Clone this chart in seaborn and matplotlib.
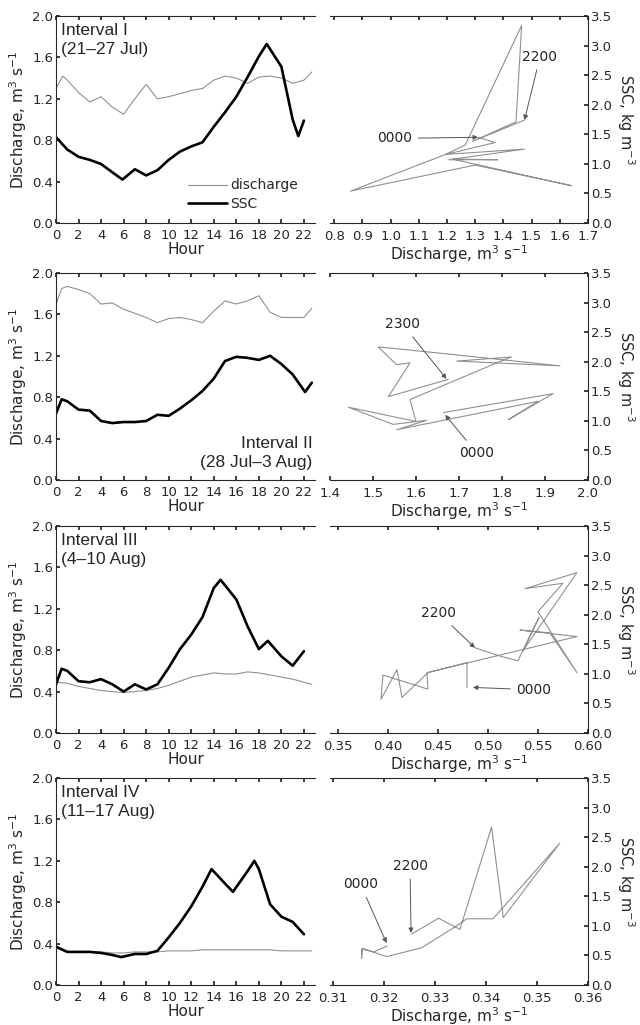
import matplotlib
matplotlib.use("Agg")
import matplotlib.pyplot as plt
import numpy as np
import seaborn as sns

# ---- left panels: hourly curves (read on the discharge axis) ----
q1_h = [0, 0.6, 1, 2, 3, 4, 5, 6, 7, 8, 9, 10, 11, 12, 13, 14, 15, 16, 17, 18, 19, 20, 21, 22, 22.7]
q1_v = [1.30, 1.42, 1.38, 1.26, 1.17, 1.22, 1.12, 1.05, 1.20, 1.34, 1.20, 1.22, 1.25, 1.28, 1.30, 1.38, 1.42,
        1.40, 1.35, 1.41, 1.42, 1.40, 1.35, 1.38, 1.46]
s1_h = [0, 1, 2, 3, 4, 5, 5.9, 7, 8, 9, 10, 11, 12, 13, 14, 15, 16, 17, 18, 18.7, 20, 21, 21.5, 22]
s1_v = [0.83, 0.71, 0.64, 0.61, 0.57, 0.49, 0.42, 0.52, 0.46, 0.51, 0.61, 0.69, 0.74, 0.78, 0.93, 1.07, 1.22,
        1.41, 1.61, 1.73, 1.51, 1.00, 0.84, 0.99]

q2_h = [0, 0.5, 1, 2, 3, 4, 5, 6, 7, 8, 9, 10, 11, 12, 13, 14, 15, 16, 17, 18, 19, 20, 21, 22, 22.7]
q2_v = [1.70, 1.85, 1.87, 1.84, 1.80, 1.70, 1.71, 1.65, 1.61, 1.57, 1.52, 1.56, 1.57, 1.55, 1.52, 1.63, 1.73,
        1.70, 1.73, 1.78, 1.62, 1.57, 1.57, 1.57, 1.66]
s2_h = [0, 0.5, 1, 2, 3, 4, 5, 6, 7, 8, 9, 10, 11, 12, 13, 14, 15, 16, 17, 18, 19, 20, 21, 22.1, 22.7]
s2_v = [0.64, 0.78, 0.76, 0.68, 0.67, 0.57, 0.55, 0.56, 0.56, 0.57, 0.63, 0.62, 0.69, 0.77, 0.86, 0.98, 1.15,
        1.19, 1.18, 1.16, 1.20, 1.12, 1.02, 0.85, 0.94]

q3_h = [0, 1, 2, 3, 4, 5, 6, 7, 8, 9, 10, 11, 12, 13, 14, 15, 16, 17, 18, 19, 20, 21, 22, 22.7]
q3_v = [0.49, 0.48, 0.45, 0.43, 0.41, 0.40, 0.39, 0.40, 0.41, 0.43, 0.46, 0.50, 0.54, 0.56, 0.58, 0.57, 0.57,
        0.59, 0.58, 0.56, 0.54, 0.52, 0.49, 0.47]
s3_h = [0, 0.5, 1, 2, 3, 4, 5, 6, 7, 8, 9, 10, 11, 12, 13, 14, 14.6, 16, 17, 18, 18.8, 20, 21, 22]
s3_v = [0.47, 0.62, 0.60, 0.50, 0.49, 0.52, 0.47, 0.40, 0.47, 0.42, 0.47, 0.63, 0.81, 0.95, 1.12, 1.40, 1.48,
        1.29, 1.03, 0.81, 0.89, 0.74, 0.65, 0.79]

q4_h = [0, 1, 2, 3, 4, 5, 6, 7, 8, 9, 10, 11, 12, 13, 14, 15, 16, 17, 18, 19, 20, 21, 22, 22.7]
q4_v = [0.36, 0.32, 0.32, 0.32, 0.32, 0.31, 0.31, 0.32, 0.32, 0.32, 0.33, 0.33, 0.33, 0.34, 0.34, 0.34, 0.34,
        0.34, 0.34, 0.34, 0.33, 0.33, 0.33, 0.33]
s4_h = [0, 1, 2, 3, 4, 5, 5.8, 7, 8, 9, 10, 11, 12, 13, 13.8, 15, 15.7, 17, 17.6, 18, 19, 20, 21, 22]
s4_v = [0.37, 0.32, 0.32, 0.32, 0.31, 0.29, 0.27, 0.30, 0.30, 0.33, 0.46, 0.60, 0.76, 0.95, 1.12, 0.98, 0.90,
        1.10, 1.20, 1.12, 0.78, 0.66, 0.61, 0.49]

# ---- right panels: hysteresis paths (discharge, SSC) in hour order ----
h1_q = [1.31, 1.37, 1.195, 1.475, 1.207, 1.38, 1.22, 1.643, 1.30, 0.858, 1.195, 1.265, 1.465, 1.445, 1.29, 1.475]
h1_s = [1.45, 1.36, 1.16, 1.25, 1.07, 1.07, 1.08, 0.63, 0.98, 0.54, 1.16, 1.32, 3.34, 1.71, 1.38, 1.74]

h2_q = [1.664, 1.919, 1.815, 1.884, 1.555, 1.625, 1.547, 1.443, 1.60, 1.586, 1.788, 1.822, 1.695, 1.935, 1.648,
        1.512, 1.555, 1.586, 1.536, 1.675]
h2_s = [1.14, 1.46, 1.02, 1.33, 0.85, 1.01, 0.94, 1.23, 0.99, 1.36, 1.98, 2.08, 2.01, 1.93, 2.15, 2.25, 1.95,
        1.98, 1.41, 1.70]

h3_q = [0.479, 0.479, 0.44, 0.414, 0.409, 0.393, 0.395, 0.44, 0.439, 0.589, 0.532, 0.562, 0.589, 0.55, 0.575,
        0.537, 0.589, 0.535, 0.551, 0.53, 0.512, 0.487]
h3_s = [0.77, 1.19, 1.02, 0.60, 1.07, 0.57, 0.98, 0.74, 1.02, 1.63, 1.74, 1.69, 1.02, 2.05, 2.53, 2.44, 2.71,
        1.39, 1.95, 1.22, 1.30, 1.44]

h4_q = [0.3206, 0.318, 0.3156, 0.3156, 0.3158, 0.3205, 0.3274, 0.3346, 0.3362, 0.3414, 0.3545, 0.3434, 0.3411,
        0.3349, 0.3307, 0.3254]
h4_s = [0.66, 0.56, 0.61, 0.45, 0.62, 0.48, 0.63, 1.02, 1.12, 1.12, 2.40, 1.14, 2.67, 0.94, 1.13, 0.86]

interval_names = ["Interval I\n(21\u201327 Jul)", "Interval II\n(28 Jul\u20133 Aug)",
                  "Interval III\n(4\u201310 Aug)", "Interval IV\n(11\u201317 Aug)"]
q_ticks = [np.arange(0.8, 1.71, 0.1), np.arange(1.4, 2.01, 0.1),
           np.arange(0.35, 0.601, 0.05), np.arange(0.31, 0.361, 0.01)]
q_fmt = ["%.1f", "%.1f", "%.2f", "%.2f"]
q_lims = [(0.785, 1.7), (1.4, 2.0), (0.342, 0.60), (0.3094, 0.36)]

# arrows: (label, text position, arrow target)
notes = [
    [("0000", (1.015, 1.43), (1.31, 1.45)), ("2200", (1.53, 2.81), (1.475, 1.74))],
    [("2300", (1.569, 2.63), (1.671, 1.71)), ("0000", (1.741, 0.46), (1.668, 1.10))],
    [("2200", (0.451, 2.02), (0.487, 1.44)), ("0000", (0.546, 0.73), (0.485, 0.77))],
    [("0000", (0.3154, 1.70), (0.3205, 0.71)), ("2200", (0.3251, 2.01), (0.3253, 0.88))],
]

curves = [(q1_h, q1_v, s1_h, s1_v), (q2_h, q2_v, s2_h, s2_v),
          (q3_h, q3_v, s3_h, s3_v), (q4_h, q4_v, s4_h, s4_v)]
loops = [(h1_q, h1_s), (h2_q, h2_s), (h3_q, h3_s), (h4_q, h4_s)]

sns.set_theme(style="ticks")
plt.rcParams['font.family'] = ['DejaVu Sans']
plt.rcParams['axes.linewidth'] = 0.8

fig = plt.figure(figsize=(6.4, 10.25), dpi=100)
bottoms = [0.7824, 0.5317, 0.2849, 0.0390]
height = 0.202
narrow = ['Liberation Sans Narrow', 'Liberation Sans', 'DejaVu Sans']
grey = '#909090'

for i in range(4):
    axl = fig.add_axes([0.0875, bottoms[i], 0.405, height])
    axr = fig.add_axes([0.5156, bottoms[i], 0.403, height])

    qh, qv, sh, sv = curves[i]
    sns.lineplot(x=qh, y=qv, ax=axl, color=grey, lw=0.8, label="discharge", sort=False)
    sns.lineplot(x=sh, y=sv, ax=axl, color='black', lw=1.9, label="SSC", sort=False)
    axl.set_xlim(0, 23)
    axl.set_ylim(0, 2.0)
    axl.set_xticks(range(0, 23, 2))
    axl.set_yticks(np.arange(0, 2.01, 0.4))
    axl.yaxis.set_major_formatter(matplotlib.ticker.FormatStrFormatter("%.1f"))
    axl.spines['right'].set_visible(False)
    axl.tick_params(axis='x', direction='in', top=True, length=3, pad=4, labelsize=9.5)
    axl.tick_params(axis='y', direction='in', length=3, pad=2, labelsize=9.5)
    axl.set_xlabel("Hour", fontsize=11, labelpad=0)
    axl.set_ylabel("Discharge, m$^3$ s$^{-1}$", fontsize=11, labelpad=2)
    if i == 0:
        axl.legend(loc='lower right', bbox_to_anchor=(0.98, 0.0), frameon=False, fontsize=10,
                   handlelength=2.8, handletextpad=0.2, labelspacing=0.3)
    else:
        axl.get_legend().remove()
    if i == 1:
        axl.text(0.99, 0.05, interval_names[i], transform=axl.transAxes, ha='right', va='bottom',
                 multialignment='right', fontsize=12.5, family=narrow, linespacing=1.3)
    else:
        axl.text(0.02, 0.965, interval_names[i], transform=axl.transAxes, ha='left', va='top',
                 fontsize=12.5, family=narrow, linespacing=1.3)

    lq, ls = loops[i]
    sns.lineplot(x=lq, y=ls, ax=axr, color=grey, lw=0.8, sort=False, estimator=None)
    axr.set_xlim(*q_lims[i])
    axr.set_ylim(0, 3.5)
    axr.set_xticks(q_ticks[i])
    axr.xaxis.set_major_formatter(matplotlib.ticker.FormatStrFormatter(q_fmt[i]))
    axr.set_yticks(np.arange(0, 3.51, 0.5))
    axr.yaxis.set_major_formatter(matplotlib.ticker.FormatStrFormatter("%.1f"))
    axr.spines['left'].set_visible(False)
    axr.yaxis.tick_right()
    axr.tick_params(axis='x', direction='in', top=True, length=3, pad=5, labelsize=9.5)
    axr.tick_params(axis='y', direction='in', right=True, left=False, length=3, pad=2, labelsize=9.5)
    axr.set_xlabel("Discharge, m$^3$ s$^{-1}$", fontsize=11, labelpad=0)
    axr.set_ylabel("")
    axr.text(1.148, 0.5, "SSC, kg m$^{-3}$", transform=axr.transAxes, rotation=270,
             ha='center', va='center', fontsize=10.5)

    for label, txy, pxy in notes[i]:
        axr.annotate(label, xy=pxy, xytext=txy, ha='center', va='center', fontsize=10,
                     arrowprops=dict(arrowstyle='-|>', color='#555555', lw=0.7,
                                     mutation_scale=7, shrinkA=2, shrinkB=0))

fig.savefig("out.png", dpi=100)
